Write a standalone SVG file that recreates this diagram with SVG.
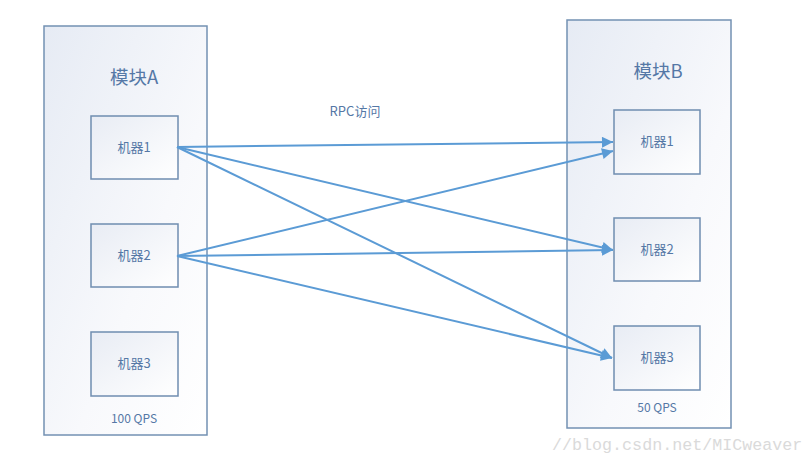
<svg xmlns="http://www.w3.org/2000/svg" width="809" height="465" viewBox="0 0 809 465">
<defs>
<linearGradient id="g" x1="0" y1="0" x2="1" y2="1">
<stop offset="0" stop-color="#e6ebf4"/>
<stop offset="0.6" stop-color="#f8f9fc"/>
<stop offset="1" stop-color="#ffffff"/>
</linearGradient>
<linearGradient id="gm" x1="0" y1="0" x2="1" y2="1">
<stop offset="0" stop-color="#e8ecf4"/>
<stop offset="1" stop-color="#ffffff"/>
</linearGradient>
<marker id="ah" viewBox="0 0 10 10" refX="10" refY="5" markerWidth="14" markerHeight="11" markerUnits="userSpaceOnUse" orient="auto">
<path d="M0,0 L10,5 L0,10 Z" fill="#5b9bd5"/>
</marker>
<style>
.mod{fill:url(#g);stroke:#7391b3;stroke-width:1.5}
.box{fill:url(#gm);stroke:#6f8db0;stroke-width:1.5}
.t{font-family:"Noto Sans CJK SC","Liberation Sans",sans-serif;fill:#5578a6;text-anchor:middle}
.c{stroke:#5b9bd5;stroke-width:2;fill:none;marker-end:url(#ah)}
</style>
</defs>
<rect width="809" height="465" fill="#ffffff"/>
<g id="moduleA">
<rect class="mod" x="44" y="26" width="163" height="409"/>
<text class="t" x="134" y="84" font-size="18.5">模块A</text>
<text class="t" x="134" y="423" font-size="12">100 QPS</text>
</g>
<g id="moduleB">
<rect class="mod" x="567" y="20" width="164" height="408"/>
<text class="t" x="658" y="78" font-size="18.5">模块B</text>
<text class="t" x="657" y="412" font-size="12">50 QPS</text>
</g>
<g id="A1"><rect class="box" x="91" y="116" width="87" height="63"/><text class="t" x="134" y="152" font-size="13">机器1</text></g>
<g id="A2"><rect class="box" x="91" y="224" width="87" height="63"/><text class="t" x="134" y="260" font-size="13">机器2</text></g>
<g id="A3"><rect class="box" x="91" y="332" width="87" height="64"/><text class="t" x="134" y="368" font-size="13">机器3</text></g>
<g id="B1"><rect class="box" x="614" y="110" width="86" height="64"/><text class="t" x="657" y="146" font-size="13">机器1</text></g>
<g id="B2"><rect class="box" x="614" y="218" width="86" height="63"/><text class="t" x="657" y="254" font-size="13">机器2</text></g>
<g id="B3"><rect class="box" x="614" y="326" width="86" height="64"/><text class="t" x="657" y="362" font-size="13">机器3</text></g>
<g id="connectors">
<line class="c" x1="177" y1="147" x2="613" y2="142"/>
<line class="c" x1="177" y1="147" x2="613" y2="250"/>
<line class="c" x1="177" y1="147" x2="612" y2="358"/>
<line class="c" x1="177" y1="256" x2="613" y2="151"/>
<line class="c" x1="177" y1="256" x2="613" y2="250"/>
<line class="c" x1="177" y1="256" x2="612" y2="358"/>
</g>
<text class="t" x="355" y="116" font-size="13">RPC访问</text>
<text x="552" y="450" font-family="Liberation Mono,monospace" font-size="16.7" fill="#dadada">//blog.csdn.net/MICweaver</text>
</svg>
